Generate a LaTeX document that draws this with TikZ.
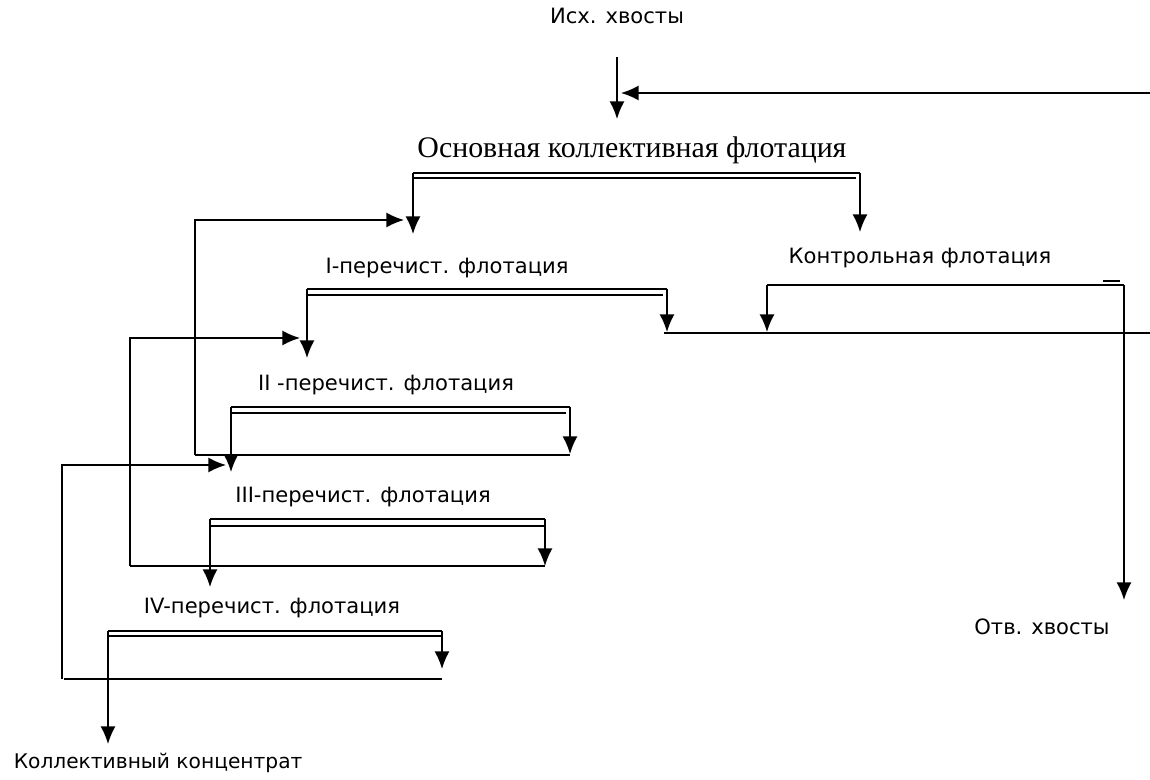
\documentclass[tikz,border=0pt]{standalone}
\usepackage{fontspec}
\usetikzlibrary{arrows.meta}
\newfontfamily\sansru{DejaVu Sans}
\newfontfamily\serifru{Liberation Serif}
\begin{document}
\begin{tikzpicture}[x=0.02cm,y=-0.02cm,line width=0.9pt,
  >={Latex[length=10pt,width=8.5pt]},
  lbl/.style={font=\sansru\fontsize{12}{14}\selectfont,inner sep=0pt},
  lblserif/.style={font=\serifru\fontsize{17}{20}\selectfont,inner sep=0pt},
  flow/.style={draw,->},
  pipe/.style={draw},
  dbl/.style={draw,line width=0.7pt}]
\useasboundingbox (0,0) rectangle (1150,780);

% labels
\node[lbl] (src) at (617,16) {Исх. хвосты};
\node[lblserif] (main) at (632,150) {Основная коллективная флотация};
\node[lbl] (ctrl) at (920,258) {Контрольная флотация};
\node[lbl] (c1) at (447,268) {I-перечист. флотация};
\node[lbl] (c2) at (386,385) {II -перечист. флотация};
\node[lbl] (c3) at (363,497) {III-перечист. флотация};
\node[lbl] (c4) at (272,608) {IV-перечист. флотация};
\node[lbl] (tail) at (1042,627) {Отв. хвосты};
\node[lbl,font=\sansru\fontsize{11.5}{13}\selectfont,anchor=west] (conc) at (13,763) {Коллективный концентрат};

% coordinates
\coordinate (srcA) at (617,57);
\coordinate (srcB) at (617,119);
\coordinate (retE) at (1150,93);
\coordinate (retT) at (621,93);

\coordinate (mL) at (413,173); \coordinate (mR) at (860,173);
\coordinate (mL2) at (413,178); \coordinate (mR2) at (856,178);
\coordinate (mLa) at (413,234); \coordinate (mRa) at (860,232);

\coordinate (kL) at (767,285); \coordinate (kR) at (1124,285);
\coordinate (kLa) at (767,332); \coordinate (kRa) at (1124,600);
\coordinate (dashA) at (1103,281); \coordinate (dashB) at (1120,281);
\coordinate (rL) at (664,333); \coordinate (rR) at (1150,333);

\coordinate (aL) at (307,289); \coordinate (aR) at (667,289);
\coordinate (aL2) at (307,295); \coordinate (aR2) at (663,295);
\coordinate (aLa) at (307,358); \coordinate (aRa) at (667,332);

\coordinate (bL) at (231,407); \coordinate (bR) at (570,407);
\coordinate (bL2) at (231,413); \coordinate (bR2) at (566,413);
\coordinate (bLa) at (231,472); \coordinate (bRa) at (570,454);

\coordinate (cL) at (210,519); \coordinate (cR) at (545,519);
\coordinate (cL2) at (210,526); \coordinate (cR2) at (545,526);
\coordinate (cLa) at (210,587); \coordinate (cRa) at (545,566);

\coordinate (dL) at (108,631); \coordinate (dR) at (442,631);
\coordinate (dL2) at (108,636); \coordinate (dR2) at (442,636);
\coordinate (dLa) at (108,744); \coordinate (dRa) at (442,669);

% feed from outside and return
\draw[flow] (srcA) -- (srcB);
\draw[flow] (retE) -- (retT);

% main collective flotation
\draw[dbl] (mL) -- (mR);
\draw[dbl] (mL2) -- (mR2);
\draw[flow] (mL) -- (mLa);
\draw[flow] (mR) -- (mRa);

% control flotation
\draw[pipe] (kL) -- (kR);
\draw[flow] (kL) -- (kLa);
\draw[flow] (kR) -- (kRa);
\draw[pipe] (dashA) -- (dashB);
\draw[pipe] (rL) -- (rR);

% I cleaner
\draw[dbl] (aL) -- (aR);
\draw[dbl] (aL2) -- (aR2);
\draw[flow] (aL) -- (aLa);
\draw[flow] (aR) -- (aRa);

% II cleaner
\draw[dbl] (bL) -- (bR);
\draw[dbl] (bL2) -- (bR2);
\draw[flow] (bL) -- (bLa);
\draw[flow] (bR) -- (bRa);
\coordinate (bT1) at (195,455); \coordinate (bT2) at (570,455);
\coordinate (bT3) at (195,220); \coordinate (bT4) at (404,220);
\draw[pipe] (bT1) -- (bT2);
\draw[flow] (bT1) -- (bT3) -- (bT4);

% III cleaner
\draw[dbl] (cL) -- (cR);
\draw[dbl] (cL2) -- (cR2);
\draw[flow] (cL) -- (cLa);
\draw[flow] (cR) -- (cRa);
\coordinate (cT1) at (130,566); \coordinate (cT2) at (545,566);
\coordinate (cT3) at (130,338); \coordinate (cT4) at (300,338);
\draw[pipe] (cT1) -- (cT2);
\draw[flow] (cT1) -- (cT3) -- (cT4);

% IV cleaner
\draw[dbl] (dL) -- (dR);
\draw[dbl] (dL2) -- (dR2);
\draw[flow] (dL) -- (dLa);
\draw[flow] (dR) -- (dRa);
\coordinate (dT1) at (64,679); \coordinate (dT2) at (442,679);
\coordinate (dT3) at (62,465); \coordinate (dT4) at (226,465);
\draw[pipe] (dT1) -- (dT2);
\draw[flow] (62,679) -- (dT3) -- (dT4);
\end{tikzpicture}
\end{document}
